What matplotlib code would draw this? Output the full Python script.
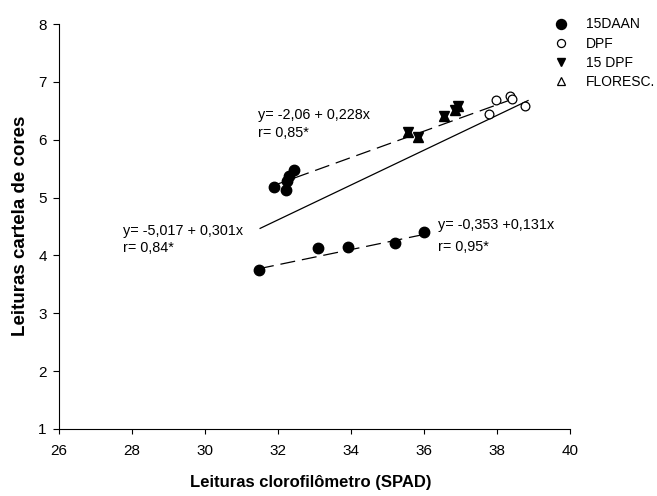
import matplotlib
matplotlib.use("Agg")
import matplotlib.pyplot as plt
from matplotlib.lines import Line2D
import numpy as np

plt.rcParams['font.family'] = ['Liberation Sans', 'DejaVu Sans']

# SPAD readings (x) and colour-chart readings (y) per stage
daan_low_x = [31.48, 33.10, 33.92, 35.21, 36.00]
daan_low_y = [3.74, 4.12, 4.14, 4.22, 4.40]

daan_high_x = [31.89, 32.22, 32.25, 32.31, 32.44]
daan_high_y = [5.19, 5.13, 5.29, 5.38, 5.48]

dpf_x = [37.78, 37.97, 38.36, 38.41, 38.77]
dpf_y = [6.44, 6.69, 6.76, 6.70, 6.58]

dpf15_x = [35.56, 35.84, 36.55, 36.85, 36.93]
dpf15_y = [6.13, 6.05, 6.41, 6.51, 6.58]

flor_x = [35.56, 35.84, 36.55, 36.85, 36.93]
flor_y = [6.13, 6.05, 6.41, 6.51, 6.58]

# Regression fits: (intercept, slope, x start, x end)
fit_low = (-0.353, 0.131, 31.48, 36.00)
fit_high = (-2.06, 0.228, 31.89, 38.63)
fit_all = (-5.017, 0.301, 31.51, 38.85)

legend_labels = ['15DAAN', 'DPF', '15 DPF', 'FLORESC.']
x_ticks = [26, 28, 30, 32, 34, 36, 38, 40]
y_ticks = [1, 2, 3, 4, 5, 6, 7, 8]

W, H = 657, 496
fig = plt.figure(figsize=(W / 100, H / 100), dpi=100)
ax = fig.add_axes([59 / W, 1 - 429 / H, 511 / W, 405 / H])

def fit_line(fit, **kw):
    a, b, x0, x1 = fit
    xs = np.array([x0, x1])
    ax.plot(xs, a + b * xs, color='black', lw=0.9, **kw)

fit_line(fit_low, dashes=(12, 5.5))
fit_line(fit_high, dashes=(12, 5.5))
fit_line(fit_all)

ax.plot(daan_low_x, daan_low_y, 'o', ms=7.5, mfc='black', mec='black', ls='none')
ax.plot(daan_high_x, daan_high_y, 'o', ms=7.5, mfc='black', mec='black', ls='none')
ax.plot(dpf_x, dpf_y, 'o', ms=6.3, mfc='white', mec='black', mew=0.9, ls='none')
ax.plot(flor_x, flor_y, '^', ms=6.5, mfc='black', mec='black', ls='none')
ax.plot(dpf15_x, dpf15_y, 'v', ms=6.5, mfc='black', mec='black', ls='none')

fs = 10.4
ax.text(31.46, 6.43, 'y= -2,06 + 0,228x', fontsize=fs, va='center', ha='left')
ax.text(31.46, 6.12, 'r= 0,85*', fontsize=fs, va='center', ha='left')
ax.text(27.745, 4.43, 'y= -5,017 + 0,301x', fontsize=fs, va='center', ha='left')
ax.text(27.745, 4.13, 'r= 0,84*', fontsize=fs, va='center', ha='left')
ax.text(36.39, 4.53, 'y= -0,353 +0,131x', fontsize=fs, va='center', ha='left')
ax.text(36.39, 4.15, 'r= 0,95*', fontsize=fs, va='center', ha='left')

ax.set_xlim(26, 40)
ax.set_ylim(1, 8)
ax.set_xticks(x_ticks)
ax.set_yticks(y_ticks)
ax.tick_params(axis='x', direction='out', length=3.6, width=0.8, labelsize=11, pad=7)
ax.tick_params(axis='y', direction='out', length=4.3, width=0.8, labelsize=11, pad=4.5)
for s in ('top', 'right'):
    ax.spines[s].set_visible(False)
for s in ('left', 'bottom'):
    ax.spines[s].set_linewidth(0.8)

fig.text(310.8 / W, 1 - 487 / H, 'Leituras clorofilômetro (SPAD)', fontsize=12,
         fontweight='bold', ha='center', va='baseline')
fig.text(25 / W, 1 - 226.3 / H, 'Leituras cartela de cores', fontsize=13.5,
         fontweight='bold', ha='center', va='baseline', rotation=90,
         rotation_mode='anchor')

handles = [
    Line2D([], [], marker='o', ls='none', ms=7.2, mfc='black', mec='black'),
    Line2D([], [], marker='o', ls='none', ms=5.8, mfc='white', mec='black', mew=0.9),
    Line2D([], [], marker='v', ls='none', ms=6.2, mfc='black', mec='black'),
    Line2D([], [], marker='^', ls='none', ms=6.2, mfc='white', mec='black', mew=0.9),
]
fig.legend(handles, legend_labels, loc='upper left', bbox_to_anchor=(552.7 / W, 1 - 17.4 / H),
           frameon=False, fontsize=10, handletextpad=1.2, labelspacing=0.38,
           handlelength=1.2, borderaxespad=0, borderpad=0)

fig.savefig('out.png', dpi=100)
